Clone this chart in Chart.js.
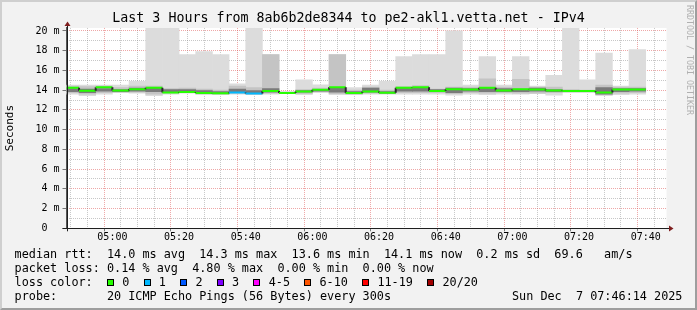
<!DOCTYPE html>
<html>
<head>
<meta charset="utf-8">
<title>Smokeping - Last 3 Hours</title>
<script src="https://cdn.jsdelivr.net/npm/chart.js@4.4.1/dist/chart.umd.min.js"></script>
<style>
  body { margin: 0; background: #f2f2f2; }
  #wrap { position: relative; width: 697px; height: 310px; background: #f2f2f2; overflow: hidden;
          font-family: "DejaVu Sans Mono", monospace; color: #000; }
  #chart { position: absolute; left: 0; top: 0; }
  #frame { position: absolute; left: 0; top: 0; width: 697px; height: 310px; box-sizing: border-box; pointer-events: none;
           border-top: 2px solid #cfcfcf; border-left: 2px solid #cfcfcf;
           border-right: 2px solid #9e9e9e; border-bottom: 2px solid #9e9e9e; }
  .line { position: absolute; left: 14.6px; white-space: pre; font-size: 11.8px; line-height: 14px; }
  .box { display: inline-block; width: 5px; height: 5px; border: 1px solid #000; margin-right: 8.3px; vertical-align: 0; }
  #stamp { position: absolute; left: 512px; top: 289px; white-space: pre; font-size: 11.8px; line-height: 14px; }
  #credit { position: absolute; left: 685px; top: 5px; writing-mode: vertical-rl; font-size: 8.3px; color: #b0b0b0; white-space: pre; }
</style>
</head>
<body>
<div id="wrap">
  <canvas id="chart" width="697" height="310"></canvas>
  <div class="line" id="l-rtt" style="top:247px"></div>
  <div class="line" id="l-loss" style="top:261px"></div>
  <div class="line" id="l-color" style="top:275px"></div>
  <div class="line" id="l-probe" style="top:289px"></div>
  <div id="stamp"></div>
  <div id="credit">RRDTOOL / TOBI OETIKER</div>
  <div id="frame"></div>
</div>
<script>
// 5-minute measurement slots (start of each slot)
const slotStart = ["04:45","04:50","04:55","05:00","05:05","05:10","05:15","05:20","05:25","05:30",
    "05:35","05:40","05:45","05:50","05:55","06:00","06:05","06:10","06:15","06:20",
    "06:25","06:30","06:35","06:40","06:45","06:50","06:55","07:00","07:05","07:10",
    "07:15","07:20","07:25","07:30","07:35"];

// Median RTT per slot (ms)
const medianRtt = [14.24, 13.95, 14.3, 13.97, 14.1, 14.24, 13.77, 13.8, 13.7, 13.68,
    13.77, 13.67, 13.92, 13.7, 13.85, 14.05, 14.3, 13.7, 13.87, 13.73,
    14.24, 14.3, 13.9, 14.1, 14.07, 14.24, 13.97, 14.1, 14.07, 13.97,
    13.9, 13.9, 13.77, 14.07, 14.07];

// Smoke: fastest / slowest ping per slot (ms)
const pingMin = [13.6, 13.45, 13.6, 13.75, 13.7, 13.45, 13.6, 13.7, 13.55, 13.55,
    13.6, 13.55, 13.6, 13.65, 13.55, 13.75, 13.55, 13.55, 13.6, 13.6,
    13.6, 13.6, 13.6, 13.5, 13.6, 13.55, 13.6, 13.6, 13.65, 13.5,
    13.75, 13.75, 13.45, 13.55, 13.6];
const pingMax = [14.5, 14.5, 14.5, 14.5, 14.9, 24, 24, 17.6, 17.9, 17.6,
    14.65, 24, 17.6, 13.85, 15.05, 14.55, 17.6, 14.25, 14.5, 14.9,
    17.4, 17.6, 17.6, 20.0, 14.5, 17.4, 14.5, 17.4, 14.4, 15.5,
    24, 15.05, 17.75, 14.4, 18.1];

// Smoke: denser inner band
const innerLo = [13.75, 13.6, 13.75, 13.8, 13.8, 13.6, 13.7, 13.75, 13.65, 13.6,
    13.7, 13.6, 13.7, 13.65, 13.65, 13.85, 13.65, 13.6, 13.7, 13.65,
    13.75, 13.75, 13.75, 13.65, 13.75, 13.7, 13.75, 13.7, 13.7, 13.75,
    13.85, 13.85, 13.55, 13.7, 13.75];
const innerHi = [14.4, 14.35, 14.4, 14.25, 14.4, 14.4, 14.15, 14.2, 14.1, 14.0,
    14.4, 14.25, 17.6, 13.8, 14.05, 14.2, 17.6, 14.0, 14.3, 14.0,
    14.35, 14.45, 14.1, 14.3, 14.3, 15.15, 14.3, 15.1, 14.3, 14.3,
    14.05, 14.0, 14.5, 14.3, 14.3];

// Smoke: darkest core around the median
const coreLo = [13.85, 13.75, 13.9, 13.85, 13.9, 13.85, 13.75, 13.8, 13.7, 13.65,
    13.8, 13.7, 13.8, 13.7, 13.8, 13.9, 13.8, 13.65, 13.8, 13.7,
    13.9, 13.9, 13.85, 13.75, 13.9, 13.85, 13.85, 13.85, 13.9, 13.85,
    13.85, 13.85, 13.6, 13.85, 13.9];
const coreHi = [14.15, 14.1, 14.15, 14.05, 14.2, 14.2, 14.05, 14.05, 13.95, 13.85,
    14.1, 13.95, 14.15, 13.75, 13.95, 14.05, 14.25, 13.85, 14.2, 13.85,
    14.2, 14.25, 14.05, 14.2, 14.15, 14.2, 14.15, 14.1, 14.2, 14.05,
    13.95, 13.95, 14.25, 14.15, 14.15];

// Lost pings per slot (of 20)
const lossCount = [0, 0, 0, 0, 0, 0, 0, 0, 0, 0,
    1, 1, 0, 0, 0, 0, 0, 0, 0, 0,
    0, 0, 0, 0, 0, 0, 0, 0, 0, 0,
    0, 0, 0, 0, 0];

// Loss colour legend
const lossLabels = ["0", "1", "2", "3", "4-5", "6-10", "11-19", "20/20"];
const lossUpper = [0, 1, 2, 3, 5, 10, 19, 20];
const lossColors = ["#26ff00", "#00b8ff", "#0059ff", "#7e00ff", "#ff00ff", "#ff5500", "#ff0000", "#a10000"];

// Axis labels
const xLabels = ["05:00", "05:20", "05:40", "06:00", "06:20", "06:40", "07:00", "07:20", "07:40"];
const yLabels = [0, 2, 4, 6, 8, 10, 12, 14, 16, 18, 20];
const viewStart = "04:46:14";
const viewEnd = "07:46:14";

// Text
const titleText = "Last 3 Hours from 8ab6b2de8344 to pe2-akl1.vetta.net - IPv4";
const rttStats = ["14.0 ms avg", "14.3 ms max", "13.6 ms min", "14.1 ms now", "0.2 ms sd", "69.6   am/s"];
const lossStats = ["0.14 % avg", "4.80 % max", "0.00 % min", "0.00 % now"];
const probeText = "20 ICMP Echo Pings (56 Bytes) every 300s";
const stampText = "Sun Dec  7 07:46:14 2025";

const MONO = "DejaVu Sans Mono";
const MAJOR = "rgba(222,79,79,0.5)";
const MINOR = "rgba(143,143,143,0.5)";

// "HH:MM[:SS]" -> minutes after midnight
function toMin(s) {
    const p = s.split(":").map(Number);
    return p[0] * 60 + p[1] + (p[2] || 0) / 60;
}
function fmt(v) {
    const h = Math.floor(v / 60), m = Math.round(v % 60);
    return String(h).padStart(2, "0") + ":" + String(m).padStart(2, "0");
}
function lossColor(n) {
    return lossColors[lossUpper.findIndex(u => n <= u)];
}

// Footer legend text
document.getElementById("l-rtt").textContent = "median rtt:  " + rttStats.join("  ");
document.getElementById("l-loss").textContent = "packet loss: " + lossStats.join("  ");
document.getElementById("l-color").innerHTML = "loss color:  " + lossLabels.map((l, i) =>
    `<span class="box" style="background:${lossColors[i]}"></span>${l}  `).join("");
document.getElementById("l-probe").textContent = "probe:       " + probeText;
document.getElementById("stamp").textContent = stampText;

// Build datasets
const centers = slotStart.map(s => toMin(s) + 2.5);
const band = (lo, hi) => centers.map((x, i) => ({ x: x, y: [lo[i], hi[i]] }));
const barStyle = { type: "bar", grouped: false, barPercentage: 1, categoryPercentage: 1, borderWidth: 0, clip: 0 };

// Median drawn as a step line: one point at each slot edge
const medianPts = [];
slotStart.forEach((s, i) => {
    const t = toMin(s);
    medianPts.push({ x: t, y: medianRtt[i] }, { x: t + 5, y: medianRtt[i] });
});

// Grid every 5 minutes / every 1 ms
const gridX = [];
for (let t = toMin("04:50"); t <= toMin(viewEnd); t += 5) gridX.push(t);
const gridY = [];
for (let v = 0; v <= 20; v++) gridY.push(v);

// White plot canvas behind the data
const plotBg = {
    id: "plotBg",
    beforeDraw(chart) {
        const { ctx, chartArea: a } = chart;
        ctx.save();
        ctx.fillStyle = "#ffffff";
        ctx.fillRect(a.left, a.top, a.right - a.left, a.bottom - a.top);
        ctx.restore();
    }
};

// rrdtool style axis arrows
const axisArrows = {
    id: "axisArrows",
    afterDraw(chart) {
        const { ctx, chartArea: a } = chart;
        const x0 = Math.round(a.left) + 0.5, y0 = Math.round(a.bottom) + 0.5;
        ctx.save();
        ctx.strokeStyle = "#1f1f1f";
        ctx.lineWidth = 1;
        ctx.beginPath();
        ctx.moveTo(a.left - 4, y0); ctx.lineTo(a.right + 3, y0);
        ctx.moveTo(x0, a.bottom + 3); ctx.lineTo(x0, a.top - 3);
        ctx.stroke();
        ctx.fillStyle = "#7f1f1f";
        ctx.beginPath();
        ctx.moveTo(x0, a.top - 6.5); ctx.lineTo(x0 - 3, a.top - 2); ctx.lineTo(x0 + 3, a.top - 2);
        ctx.closePath(); ctx.fill();
        ctx.beginPath();
        ctx.moveTo(a.right + 7, y0); ctx.lineTo(a.right + 2.5, y0 - 3); ctx.lineTo(a.right + 2.5, y0 + 3);
        ctx.closePath(); ctx.fill();
        ctx.restore();
    }
};

new Chart(document.getElementById("chart"), {
    type: "bar",
    data: {
        datasets: [
            {
                type: "line",
                data: medianPts,
                borderWidth: 2,
                borderColor: lossColors[0],
                pointRadius: 0,
                tension: 0,
                clip: 0,
                segment: {
                    borderColor: c => c.p0DataIndex % 2 ? "#2a2a2a" : lossColor(lossCount[c.p0DataIndex >> 1])
                }
            },
            Object.assign({ data: band(coreLo, coreHi), backgroundColor: "#7a7a7a" }, barStyle),
            Object.assign({ data: band(innerLo, innerHi), backgroundColor: "#c4c4c4" }, barStyle),
            Object.assign({ data: band(pingMin, pingMax), backgroundColor: "#dcdcdc" }, barStyle)
        ]
    },
    options: {
        responsive: false,
        animation: false,
        events: [],
        layout: { padding: 0 },
        plugins: {
            legend: { display: false },
            tooltip: { enabled: false },
            title: {
                display: true,
                text: titleText,
                color: "#000",
                font: { family: MONO, size: 13.3, weight: "normal" },
                padding: { top: 11, bottom: 1 }
            }
        },
        scales: {
            x: {
                type: "linear",
                min: toMin(viewStart),
                max: toMin(viewEnd),
                offset: false,
                z: 1,
                afterBuildTicks: s => { s.ticks = gridX.map(v => ({ value: v })); },
                // x axis band plus room for the footer legend below
                afterFit: s => { s.height = 81.7; },
                grid: {
                    color: c => c.tick && c.tick.value % 20 === 0 ? MAJOR : MINOR,
                    tickLength: 3,
                    tickColor: c => c.tick && c.tick.value % 20 === 0 ? "#777" : "transparent"
                },
                border: { color: "#1f1f1f", width: 1, dash: [1, 1] },
                ticks: {
                    autoSkip: false,
                    maxRotation: 0,
                    padding: 0,
                    color: "#000",
                    font: { family: MONO, size: 10 },
                    callback: v => xLabels.includes(fmt(v)) ? fmt(v) : ""
                }
            },
            y: {
                min: 0,
                max: 20.3,
                z: 1,
                afterBuildTicks: s => { s.ticks = gridY.map(v => ({ value: v })); },
                afterFit: s => { s.width = 66.5; },
                grid: {
                    color: c => !c.tick || c.tick.value === 0 ? "transparent" : (yLabels.includes(c.tick.value) ? MAJOR : MINOR),
                    tickLength: 4,
                    tickColor: c => c.tick && yLabels.includes(c.tick.value) ? "#777" : "transparent"
                },
                border: { color: "#555", width: 1, dash: [1, 1] },
                ticks: {
                    autoSkip: false,
                    padding: 3,
                    color: "#000",
                    font: { family: MONO, size: 10 },
                    callback: v => !yLabels.includes(v) ? "" : (v === 0 ? "0  " : v + " m")
                },
                title: {
                    display: true,
                    text: "Seconds",
                    color: "#000",
                    font: { family: MONO, size: 11 },
                    padding: { top: 4, bottom: 0 }
                }
            },
            // empty right-hand gutter so the title stays centred on the whole image
            gutter: {
                type: "linear",
                position: "right",
                min: 0,
                max: 1,
                grid: { display: false },
                ticks: { display: false },
                border: { display: false },
                afterFit: s => { s.width = 30.5; }
            }
        }
    },
    plugins: [plotBg, axisArrows]
});
</script>
</body>
</html>
